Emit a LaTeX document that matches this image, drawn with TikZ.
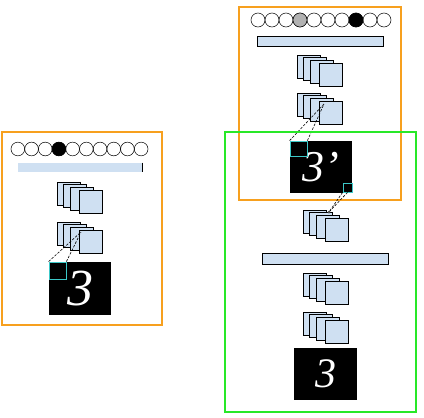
\documentclass[tikz,border=0pt]{standalone}
\usepackage{fontspec}
\setmainfont{Liberation Serif}
\definecolor{mapblue}{RGB}{207,224,242}
\definecolor{frameorange}{RGB}{247,160,30}
\definecolor{framegreen}{RGB}{40,232,40}
\definecolor{patchcyan}{RGB}{60,200,200}
\begin{document}
\begin{tikzpicture}[x=1pt, y=-1pt,
	unit/.style={circle, draw, line width=0.5pt, inner sep=0pt, minimum size=13.7pt},
	bar/.style={rectangle, fill=mapblue, draw, line width=0.6pt, inner sep=0pt},
	fmap/.style={rectangle, fill=mapblue, draw, line width=0.6pt, inner sep=0pt, minimum size=23pt},
	digit/.style={rectangle, fill=black, text=white, inner sep=0pt},
	patch/.style={rectangle, draw=patchcyan, line width=0.8pt, inner sep=0pt},
	field/.style={dash pattern=on 2.5pt off 1.5pt, line width=0.6pt}]
	\useasboundingbox (0,0) rectangle (424,418);

	\draw[frameorange, line width=1.6pt] (2,132) rectangle (162,325);
	\draw[frameorange, line width=2pt] (239,7) rectangle (401,200);

	\foreach \i in {0,...,9}
		\node[unit] (lu\i) at ({17.85+13.7*\i},149){};
	\node[unit, fill=black] at (lu3){};
	\foreach \i in {0,...,9}
		\node[unit, minimum size=14pt] (ru\i) at ({258+14*\i},20){};
	\node[unit, minimum size=14pt, fill=black!30] at (ru3){};
	\node[unit, minimum size=14pt, fill=black] at (ru7){};

	\node[bar, draw=none, minimum width=124pt, minimum height=9pt] (lbar) at (80,167.5){};
	\draw[line width=0.6pt] (lbar.north east) -- (lbar.south east);
	\node[bar, minimum width=126pt, minimum height=10pt] (rbar) at (320,41){};
	\node[bar, minimum width=126pt, minimum height=11pt] (mbar) at (325,258.5){};

	\foreach \s/\x/\y in {a/57/182, b/57/222, c/297/55, d/297/93, e/303/210, f/303/273, g/303/312}
		\foreach \k/\dx/\dy in {1/0/0, 2/6/2, 3/13/5, 4/22/8}
			\node[fmap] (\s\k) at (\x+\dx+11.5, \y+\dy+11.5){};

	\node[digit, minimum width=62pt, minimum height=53pt] (limg) at (80,288.5){\fontsize{52}{52}\selectfont\itshape 3};
	\node[digit, minimum width=62pt, minimum height=52pt] (timg) at (321,167){\fontsize{44}{44}\selectfont\itshape 3’};
	\node[digit, minimum width=63pt, minimum height=52pt] (bimg) at (325.5,374){\fontsize{42}{42}\selectfont\itshape 3};

	\node[patch, minimum size=17pt] (lpatch) at (57.5,270.5){};
	\node[patch, minimum width=17pt, minimum height=15pt] (tpatch) at (298.5,148.5){};
	\node[patch, minimum size=9pt] (spatch) at (347.5,187.5){};

	\coordinate (lunit) at (81,232);
	\coordinate (tunit) at (324,104);
	\coordinate (eunit) at (329,212);
	\draw[field] (lpatch.north west) -- (lunit);
	\draw[field] (lpatch.north east) -- (lunit);
	\draw[field] (tpatch.north west) -- (tunit);
	\draw[field] (tpatch.north east) -- (tunit);
	\draw[field] (spatch.south west) -- (eunit);
	\draw[field] (spatch.south) -- (eunit);
	\fill[black!70] (eunit) circle (1.5pt);

	\draw[framegreen, line width=2.4pt] (225,132) rectangle (416,412);
\end{tikzpicture}
\end{document}
